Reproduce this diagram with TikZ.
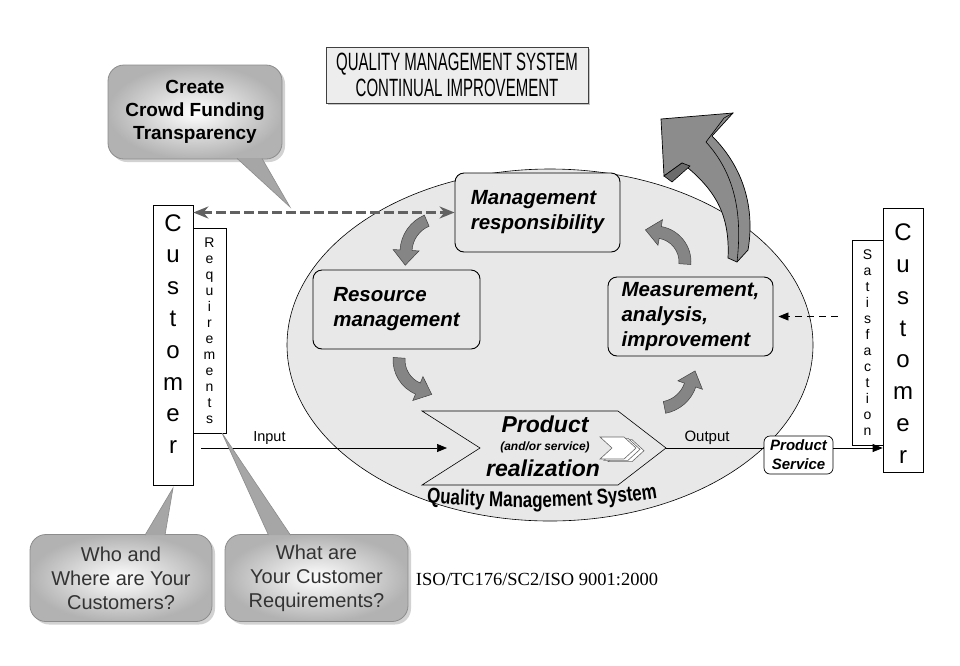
\documentclass[tikz,border=0pt]{standalone}
\usepackage{fontspec}
\setmainfont{Liberation Sans}
\newfontfamily\titlefont[FakeStretch=0.6]{Liberation Sans}
\newfontfamily\qmsfont[FakeStretch=0.79]{Liberation Sans}
\newfontfamily\isofont{Liberation Serif}
\usetikzlibrary{positioning,calc,arrows.meta,shadows,shapes.geometric,decorations.text}
\definecolor{qmsgray}{gray}{0.91}
\definecolor{boxgray}{gray}{0.93}
\definecolor{turngray}{gray}{0.52}
\definecolor{bigarrow}{gray}{0.55}
\definecolor{bigside}{gray}{0.42}
\definecolor{dashgray}{gray}{0.38}
\definecolor{bubbletext}{gray}{0.2}

\begin{document}
\begin{tikzpicture}[x=1pt, y=-1pt,
	stage/.style={draw, rounded corners=9pt, fill=qmsgray, line width=0.9pt, minimum width=165pt, minimum height=79pt, inner sep=0pt, align=left, font=\bfseries\itshape\fontsize{20.5}{25}\selectfont},
	titlebox/.style={draw=black!75, fill=boxgray, minimum width=262pt, minimum height=56pt, align=center, font=\titlefont\fontsize{25}{26}\selectfont, drop shadow={shadow xshift=2pt, shadow yshift=-2pt, opacity=0.45}},
	custbox/.style={draw, fill=white, line width=0.7pt, minimum width=40pt, inner sep=0pt},
	custletters/.style={inner sep=0pt, align=center, font=\fontsize{24}{31.8}\selectfont},
	sidebox/.style={draw, fill=white, line width=0.6pt, minimum width=33pt, minimum height=205pt, inner sep=0pt},
	sideletters/.style={inner sep=0pt, align=center, font=\fontsize{14}{16}\selectfont},
	bubble/.style={draw=black!45, line width=0.8pt, rounded corners=16pt, inner color=white, outer color=black!30, drop shadow={shadow xshift=3pt, shadow yshift=-3pt, opacity=0.35}, align=center, inner sep=0pt},
	tailfill/.style={fill=black!35},
	tailline/.style={draw=black!45, line width=0.6pt},
	flow/.style={line width=0.7pt, -{Triangle[length=10pt,width=8pt]}},
	pics/turn/.style args={#1/#2/#3}{code={
		\filldraw[fill=turngray, draw=black!75, line width=0.5pt]
			({#1}:{#3+6}) arc[start angle=#1, end angle=#2, radius=#3+6]
			-- ({#2}:{#3+13}) -- ($({#2}:{#3})+({#2-90}:15)$) -- ({#2}:{#3-13}) -- ({#2}:{#3-6})
			arc[start angle=#2, end angle=#1, radius=#3-6] -- cycle;
	}}]

	\useasboundingbox	(0,0) rectangle (960,665);
	\fill[white]	(0,0) rectangle (960,665);

	\node 	(qms)	at	(550,345)	[ellipse, draw, fill=qmsgray, line width=0.6pt, minimum width=526pt, minimum height=352pt]{};
	\path[decorate, decoration={text along path, text align=center, text={|\qmsfont\bfseries\fontsize{21.5}{24}\selectfont|Quality Management System}}]
		(416,501) .. controls (495,510) and (590,510) .. (668,496);

	\node 	(title)	at	(457,75)	[titlebox]{QUALITY MANAGEMENT SYSTEM\\CONTINUAL IMPROVEMENT};

	\node 	(mgmt)	at	(537.5,212.5)	[stage]{Management\\responsibility};
	\node 	(res)	at	(396.5,309.5)	[stage, minimum width=167pt]{Resource\\management};
	\node 	(meas)	at	(690.5,316.5)	[stage]{Measurement,\\analysis,\\improvement};

	\draw[fill=qmsgray, line width=0.6pt]	(422,411) -- (618,411) -- (666,448) -- (618,485) -- (422,485) -- (480,448) -- cycle;
	\coordinate	(prodtip)	at	(666,448);
	\foreach \d in {8,4,0}
		\draw[fill=white, draw=black!60, line width=0.6pt]	($(600,437)+(\d,\d/3)$) -- +(24,0) -- +(36,11) -- +(24,22) -- +(0,22) -- +(12,11) -- cycle;
	\node 	(prodA)	at	(545,424)	[font=\bfseries\itshape\fontsize{23}{26}\selectfont]{Product};
	\node 	(prodB)	at	(545,447)	[font=\bfseries\itshape\fontsize{12}{14}\selectfont]{(and/or service)};
	\node 	(prodC)	at	(543,468)	[font=\bfseries\itshape\fontsize{23}{26}\selectfont]{realization};

	\pic	(turnA)	at	(440,252)	{turn=-113/-177/34};
	\pic	(turnB)	at	(430,360)	{turn=-176/-247/31};
	\pic	(turnC)	at	(658,374)	{turn=79/19/34};
	\pic	(turnD)	at	(655,262)	{turn=4/-80/30};

	\filldraw[fill=bigarrow, draw=black, line width=0.7pt]
		(728,258) .. controls (730,215) and (716,190) .. (682,163)
		-- (664,176) -- (661,119) -- (733,113) -- (712,136)
		.. controls (748,172) and (754,215) .. (748,250) -- (737,262) -- cycle;
	\filldraw[fill=bigside, draw=black, line width=0.6pt]	(664,176) -- (672,182) -- (690,166) -- (682,163) -- cycle;
	\draw[line width=0.6pt]	(737,262) .. controls (742,218) and (737,176) .. (706,142) -- (724,118) -- (733,113);

	\node 	(custL)	at	(173,345)	[custbox, minimum height=280pt]{};
	\node 	(custLtxt)	[custletters, below=9.5pt of custL.north]{C\\u\\s\\t\\o\\m\\e\\r};
	\node 	(req)	at	(209.5,330.5)	[sidebox]{};
	\node 	(reqtxt)	[sideletters, below=10pt of req.north]{R\\e\\q\\u\\i\\r\\e\\m\\e\\n\\t\\s};

	\node 	(custR)	at	(903,340)	[custbox, minimum height=264pt]{};
	\node 	(custRtxt)	[custletters, below=16pt of custR.north]{C\\u\\s\\t\\o\\m\\e\\r};
	\node 	(sat)	at	(867.5,342.5)	[sidebox, minimum width=31pt]{};
	\node 	(sattxt)	[sideletters, below=10pt of sat.north]{S\\a\\t\\i\\s\\f\\a\\c\\t\\i\\o\\n};

	\node 	(ps)	at	(798.5,455)	[draw, fill=white, rounded corners=6pt, line width=0.7pt, minimum width=69pt, minimum height=38pt, inner sep=0pt, align=center, font=\bfseries\itshape\fontsize{15}{19}\selectfont]{Product\\Service};

	\draw[dashgray, line width=3pt, dash pattern=on 10pt off 4pt, {Stealth[length=15pt,width=12pt]}-{Stealth[length=15pt,width=12pt]}]	(custL.east |- mgmt.west)	to	(mgmt.west);
	\draw[line width=0.8pt, dash pattern=on 7pt off 5pt, -{Triangle[length=10pt,width=8pt]}, shorten >=5pt, shorten <=14pt]	(sat.west |- meas.east)	to	(meas.east);

	\coordinate	(inpEnd)	at	(447,448);
	\draw[flow, shorten <=8pt]	(custL.east |- inpEnd)	to	node[pos=0.3, above, font=\fontsize{14.5}{16}\selectfont]{Input}	(inpEnd);
	\draw[line width=0.7pt]	(prodtip)	to	node[pos=0.42, above, font=\fontsize{15}{16}\selectfont]{Output}	(prodtip -| ps.west);
	\draw[flow]	(prodtip -| ps.east)	to	(prodtip -| custR.west);

	\node 	(crowd)	at	(195,112)	[bubble, minimum width=174pt, minimum height=94pt, font=\bfseries\fontsize{19}{23}\selectfont]{Create\\Crowd Funding\\Transparency};
	\coordinate	(crowdtip)	at	(290,207);
	\fill[tailfill]	($(crowd.south)+(42,-1)$) -- (crowdtip) -- ($(crowd.south)+(67,-1)$) -- cycle;
	\draw[tailline]	($(crowd.south)+(42,-1)$) -- (crowdtip) -- ($(crowd.south)+(67,-1)$);

	\node 	(who)	at	(121,578)	[bubble, minimum width=182pt, minimum height=87pt, text=bubbletext, font=\fontsize{20}{24}\selectfont]{Who and\\Where are Your\\Customers?};
	\coordinate	(whotip)	at	(173,488);
	\fill[tailfill]	($(who.north)+(24,1)$) -- (whotip) -- ($(who.north)+(44,1)$) -- cycle;
	\draw[tailline]	($(who.north)+(24,1)$) -- (whotip) -- ($(who.north)+(44,1)$);

	\node 	(what)	at	(316.5,578)	[bubble, minimum width=183pt, minimum height=87pt, text=bubbletext, font=\fontsize{20}{24}\selectfont]{What are\\Your Customer\\Requirements?};
	\coordinate	(whattip)	at	(222,433);
	\fill[tailfill]	($(what.north)+(-48,1)$) -- (whattip) -- ($(what.north)+(-26,1)$) -- cycle;
	\draw[tailline]	($(what.north)+(-48,1)$) -- (whattip) -- ($(what.north)+(-26,1)$);

	\node 	(iso)	at	(537,579)	[font=\isofont\fontsize{18.5}{20}\selectfont]{ISO/TC176/SC2/ISO 9001:2000};

\end{tikzpicture}
\end{document}
